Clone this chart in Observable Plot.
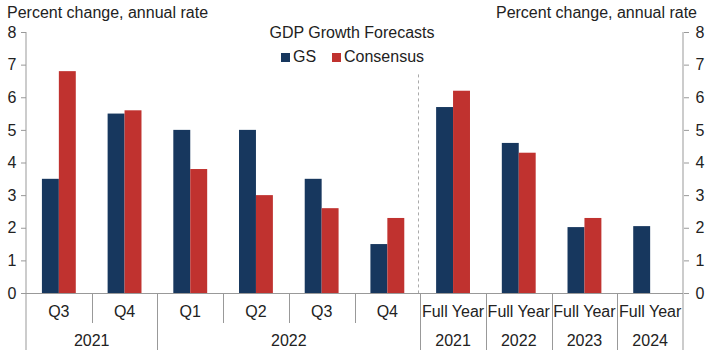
<!DOCTYPE html>
<html><head><meta charset="utf-8">
<script src="https://cdn.jsdelivr.net/npm/d3@7"></script>
<script src="https://cdn.jsdelivr.net/npm/@observablehq/plot@0.6"></script>
<style>body{margin:0;background:#fff} #chart{position:relative;width:710px;height:350px}</style>
</head><body><div id="chart"></div>
<script>
// ---- data ----
const periods = ["Q3","Q4","Q1","Q2","Q3","Q4","Full Year","Full Year","Full Year","Full Year"];
const years = ["2021","2021","2022","2022","2022","2022","2021","2022","2023","2024"];
const gs = [3.5, 5.5, 5.0, 5.0, 3.5, 1.5, 5.7, 4.6, 2.02, 2.05];
const consensus = [6.8, 5.6, 3.8, 3.0, 2.6, 2.3, 6.2, 4.3, 2.3, null];
const seriesNames = ["GS","Consensus"];
const seriesColors = ["#17375e","#c0322f"];
const yTicks = [0,1,2,3,4,5,6,7,8];
const axisTitle = "Percent change, annual rate";
const chartTitle = "GDP Growth Forecasts";
const dividerIndex = 6;
const dividerTop = 6.7;

const keys = periods.map((p,i)=>`${years[i]} ${p}`);
const data = [];
keys.forEach((k,i)=>{
  if (gs[i]!=null) data.push({key:k, series:"GS", value:gs[i]});
  if (consensus[i]!=null) data.push({key:k, series:"Consensus", value:consensus[i]});
});

const W=710, H=350, mL=26, mR=27, mT=32, mB=57;
const font = "'Liberation Sans', Arial, sans-serif";
const textColor = "#222", lineColor = "#999";

const plot = Plot.plot({
  width: W, height: H, marginLeft: mL, marginRight: mR, marginTop: mT, marginBottom: mB,
  style: {fontFamily: font, fontSize: "16px", color: textColor, background: "#fff", overflow: "visible"},
  fx: {domain: keys, padding: 0, round: false, axis: null, label: null},
  x: {domain: seriesNames, paddingInner: 0, paddingOuter: 0.94, round: false, axis: null},
  y: {domain: [0,8], axis: null},
  color: {domain: seriesNames, range: seriesColors},
  marks: [
    Plot.barY(data, {fx:"key", x:"series", y:"value", fill:"series"}),
    Plot.axisY(yTicks, {anchor:"left", tickSize:5, tickPadding:5, label:null, stroke: lineColor, fill: textColor}),
    Plot.axisY(yTicks, {anchor:"right", tickSize:5, tickPadding:7, label:null, stroke: lineColor, fill: textColor})
  ]
});
document.getElementById("chart").appendChild(plot);

// ---- decorations using the plot's scales ----
let fxS = null, yS = plot.scale("y");
try { fxS = plot.scale("fx"); } catch(e) {}
let fxApply, bw;
if (fxS && fxS.apply) { fxApply = fxS.apply; bw = fxS.bandwidth; }
else { const b = d3.scaleBand(keys, [mL, W-mR]).padding(0); fxApply = b; bw = b.bandwidth(); }
const yA = yS.apply;
const y0 = yA(0), yTop = yA(8);

const svg = d3.select(plot);
const g = svg.append("g").attr("stroke", lineColor).attr("stroke-width", 1).attr("fill","none");
const left = fxApply(keys[0]), right = fxApply(keys[keys.length-1]) + bw;
g.append("line").attr("x1", left).attr("x2", right).attr("y1", y0+0.5).attr("y2", y0+0.5);
g.append("line").attr("x1", left).attr("x2", left).attr("y1", yTop).attr("y2", H);
g.append("line").attr("x1", right).attr("x2", right).attr("y1", yTop).attr("y2", H);
for (let i=1;i<keys.length;i++){
  const x = Math.round(fxApply(keys[i]))+0.5;
  const bottom = years[i]!==years[i-1] ? H : y0+30;
  g.append("line").attr("x1", x).attr("x2", x).attr("y1", y0).attr("y2", bottom);
}
// dashed divider
const dx = Math.round(fxApply(keys[dividerIndex]))-1.5;
svg.append("line").attr("x1", dx).attr("x2", dx).attr("y1", yA(dividerTop)).attr("y2", y0)
  .attr("stroke", "#aaa").attr("stroke-dasharray","3,3");

const t = svg.append("g").attr("fill", textColor).attr("font-family", font).attr("font-size", 16).attr("text-anchor","start");
keys.forEach((k,i)=>{
  t.append("text").attr("x", fxApply(k)+bw/2).attr("y", y0+24).attr("text-anchor","middle").text(periods[i]);
});
// year labels: runs of consecutive equal years
let s = 0;
for (let i=1;i<=keys.length;i++){
  if (i===keys.length || years[i]!==years[s]) {
    const cx = (fxApply(keys[s]) + fxApply(keys[i-1]) + bw)/2;
    t.append("text").attr("x", cx).attr("y", H-4).attr("text-anchor","middle").text(years[s]);
    s = i;
  }
}
t.append("text").attr("x", 7).attr("y", 18).attr("text-anchor","start").text(axisTitle);
t.append("text").attr("x", 697).attr("y", 18).attr("text-anchor","end").text(axisTitle);
t.append("text").attr("x", 352).attr("y", 38).attr("text-anchor","middle").text(chartTitle);
// legend
const legendX = [281, 332];
seriesNames.forEach((n,i)=>{
  svg.append("rect").attr("x", legendX[i]).attr("y", 53).attr("width", 9).attr("height", 9).attr("fill", seriesColors[i]);
  t.append("text").attr("x", legendX[i]+12).attr("y", 62).attr("text-anchor","start").text(n);
});
</script>
</body></html>
